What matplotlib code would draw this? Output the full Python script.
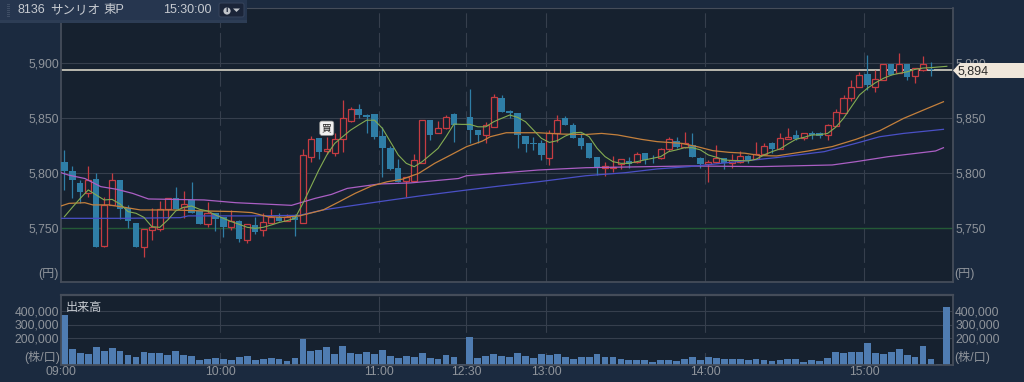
import numpy as np
import matplotlib
matplotlib.use('Agg')
import matplotlib.pyplot as plt
from matplotlib.patches import Polygon, Rectangle, FancyBboxPatch, Circle

plt.rcParams['font.family'] = ['Liberation Sans', 'Noto Sans CJK JP', 'DejaVu Sans']
plt.rcParams['lines.scale_dashes'] = False

nan = float('nan')

# 3 minute candles, one slot each, slots 50, 110 and 111 show no candle
opens = [5810, 5802, 5791, 5781.5, 5794.5, 5733.6, 5771, 5794, 5768, 5754.5,
         5732.5, 5748, 5749, 5767, 5777, 5769, 5775, 5765, 5753.6, 5764,
         5760, 5750.6, 5756.6, 5739, 5752.7, 5748, 5755, 5760, 5756, 5760,
         5755, 5814.2, 5831.5, 5820.2, 5817.8, 5830.9, 5847.5, 5857.8, 5852.7, 5854,
         5833.6, 5822.4, 5804.8, 5793, 5792.7, 5809.4, 5848, 5836, 5840.6, 5854,
         nan, 5851, 5839, 5834.5, 5842, 5867.8, 5856, 5854.8, 5833.6, 5827,
         5827.5, 5814, 5836, 5850, 5843.6, 5831.5, 5827, 5814.3, 5805, 5804.6,
         5808, 5811, 5810, 5818, 5814, 5813.4, 5821.6, 5829, 5824, 5825.5,
         5813.4, 5807.9, 5810, 5813.4, 5808.8, 5810.3, 5815.8, 5812.5, 5817, 5827,
         5822, 5831, 5834.5, 5831.5, 5836, 5836, 5834.5, 5843, 5855, 5867.9,
         5878.5, 5889.7, 5878.5, 5885, 5899, 5890.6, 5899, 5888, 5893.6, 5894.2,
         nan, nan]
closes = [5802, 5794, 5782.5, 5794, 5732.5, 5771, 5793.6, 5767.5, 5756, 5732.5,
          5749, 5751, 5767.5, 5777, 5767, 5772, 5764, 5754, 5764, 5758,
          5750.6, 5756, 5739.7, 5754, 5746.6, 5755, 5760, 5756, 5760, 5757,
          5816, 5830.9, 5819.4, 5821.6, 5830.6, 5849.7, 5857.8, 5853, 5851, 5833,
          5823, 5804, 5792, 5796.6, 5811.8, 5848, 5835, 5841, 5851, 5843.6,
          nan, 5839, 5834.5, 5843.6, 5869.4, 5855.7, 5855, 5835, 5826, 5826,
          5816, 5836, 5848, 5843.6, 5831.5, 5824.8, 5814, 5804.3, 5806, 5805.8,
          5812.5, 5808, 5817, 5811.9, 5813.4, 5821.6, 5830.6, 5824, 5827, 5814.3,
          5808.2, 5810.3, 5813.4, 5808.8, 5811.9, 5815.8, 5811.9, 5817, 5824.9, 5821.6,
          5832, 5833, 5830.9, 5836.3, 5834.5, 5834, 5843.3, 5855, 5867.9, 5878,
          5889, 5880, 5885, 5899, 5889, 5899, 5887, 5895.7, 5899, 5893.6,
          nan, nan]
highs = [5821, 5806, 5794, 5806, 5800, 5778.5, 5800, 5794, 5771, 5754.5,
         5749, 5768, 5775, 5777, 5787, 5784, 5792, 5765, 5774, 5764,
         5760, 5766, 5757, 5754, 5760, 5764, 5767, 5764, 5763, 5763,
         5822, 5833.6, 5831.5, 5833, 5836, 5866.3, 5860, 5863, 5854, 5854,
         5842, 5825, 5813, 5796.6, 5817, 5848, 5848.5, 5847.5, 5852.7, 5854.5,
         nan, 5876, 5839, 5846, 5871.8, 5871, 5857, 5855, 5833.6, 5833,
         5830, 5839, 5852.7, 5851.8, 5845.7, 5836, 5827, 5814.3, 5810, 5815.5,
         5812.5, 5814.9, 5819.4, 5818, 5816, 5822.5, 5832.5, 5832.5, 5837.6, 5836,
         5814.5, 5812, 5825.5, 5813.4, 5817, 5820, 5816.4, 5828.5, 5827, 5828.5,
         5836, 5840.6, 5839, 5836.3, 5838.5, 5837.5, 5844.5, 5858, 5871, 5884.5,
         5891.5, 5907.3, 5893.6, 5899, 5899.5, 5908.8, 5899, 5895.7, 5906.7, 5901,
         nan, nan]
lows = [5785, 5777, 5773, 5778.5, 5732.5, 5733, 5771, 5758, 5750, 5732.5,
        5724, 5739, 5747, 5758, 5767, 5759, 5764, 5754, 5751, 5747,
        5742, 5748, 5737.6, 5736.6, 5745, 5743, 5755, 5756, 5756, 5743,
        5755, 5810, 5812.4, 5817.2, 5815.4, 5819.4, 5846.6, 5850, 5836, 5830.6,
        5796.6, 5802.7, 5792, 5778, 5792.7, 5809.4, 5830, 5836, 5839.6, 5828.4,
        nan, 5827, 5827, 5827, 5842, 5855.7, 5850, 5822.4, 5819.4, 5821,
        5811.8, 5807, 5828.4, 5843.6, 5831.5, 5821.6, 5814, 5798.2, 5797.3, 5801.3,
        5803.7, 5804.3, 5808.8, 5807.9, 5809.4, 5812.5, 5820.3, 5823, 5823, 5814.3,
        5804.3, 5792, 5808.8, 5803.7, 5804.3, 5808.8, 5808.8, 5812.5, 5817, 5818.5,
        5822, 5831, 5830, 5830, 5830.6, 5832, 5830, 5843, 5855, 5865.7,
        5878.5, 5875.4, 5874, 5885, 5889, 5890.6, 5885, 5881.5, 5893, 5888,
        nan, nan]

volumes = [370000, 116000, 91000, 79000, 136000, 104000, 123000, 106000, 74000, 62000,
           94000, 86000, 86000, 74000, 101000, 74000, 67000, 35000, 42000, 49000,
           42000, 37000, 59000, 67000, 37000, 42000, 49000, 42000, 30000, 49000,
           195000, 106000, 111000, 136000, 81000, 141000, 86000, 79000, 94000, 81000,
           111000, 67000, 49000, 69000, 59000, 89000, 54000, 42000, 74000, 59000,
           10000, 210000, 54000, 69000, 81000, 69000, 59000, 86000, 69000, 54000,
           81000, 74000, 81000, 62000, 42000, 62000, 62000, 81000, 62000, 62000,
           42000, 37000, 37000, 37000, 22000, 37000, 37000, 30000, 42000, 62000,
           37000, 59000, 49000, 42000, 42000, 42000, 35000, 42000, 35000, 27000,
           35000, 42000, 42000, 20000, 35000, 27000, 52000, 94000, 86000, 94000,
           99000, 163000, 86000, 79000, 94000, 116000, 74000, 62000, 143000, 42000,
           5000, 432000]

ma_green = [5760.3, 5768.8, 5777, 5784.6, 5780, 5775.5, 5776, 5771.8, 5764.9, 5763.4,
            5759.7, 5751.2, 5750.6, 5757.3, 5765.5, 5768.8, 5770, 5767, 5765.5, 5761.8,
            5758.8, 5755.8, 5753.3, 5750.6, 5749.7, 5750.6, 5752.7, 5755, 5756.7, 5758.8,
            5772.4, 5787.5, 5802.7, 5816.3, 5826.9, 5833, 5839, 5843.6, 5848, 5848,
            5840.6, 5828.4, 5816.3, 5808.8, 5805.7, 5810.3, 5816.3, 5822.4, 5833, 5844.5,
            5844.2, 5844.2, 5842, 5842, 5846.6, 5849.7, 5852.7, 5850.6, 5846.6, 5839,
            5831.5, 5827.8, 5829.4, 5833.6, 5836.5, 5837, 5833, 5822.5, 5814.9, 5810.3,
            5808.8, 5808.8, 5810.3, 5811.9, 5813.4, 5814.9, 5819.4, 5821, 5823, 5823,
            5821, 5816.4, 5814.3, 5811.9, 5811.3, 5811.3, 5811, 5812.5, 5816.4, 5819.4,
            5821.9, 5826.4, 5830.6, 5832.4, 5834.5, 5834.8, 5836, 5841.5, 5849.7, 5860.3,
            5870.9, 5877, 5882, 5886, 5889, 5890.6, 5892, 5894.2, 5895.4, 5895.8,
            5896.4, 5897]

orange_slots = [0, 1, 3, 4, 6, 8, 10, 14, 18, 22, 24, 26, 28, 30, 33, 35, 37, 39, 41, 43,
                45, 47, 49, 51, 53, 54, 56, 60, 63, 66, 68, 70, 73, 75, 78, 80, 82, 84,
                86, 88, 90, 94, 97, 100, 103, 106, 109, 111]
ma_orange = [5770, 5772.4, 5773, 5771, 5771, 5768.8, 5766.4, 5766.4, 5765.5, 5764.9, 5764,
             5760.3, 5759.7, 5761, 5766.5, 5773.9, 5781.5, 5788, 5792, 5794.5,
             5799.7, 5808.8, 5816.3, 5823.9, 5829, 5833, 5836.6, 5836.6, 5835.4, 5835, 5836,
             5834.6, 5830.6, 5828.5, 5827, 5824, 5820.3, 5818.8, 5818, 5815.8, 5815.5,
             5820, 5824, 5830.6, 5838.5, 5849.7, 5858.8, 5864.8]

blue_slots = [0, 8, 15, 16, 24, 30, 33, 40, 45, 51, 55, 60, 66, 71, 75, 79, 82, 87, 90, 96,
              100, 103, 106, 109, 111]
ma_blue = [5758.8, 5758.8, 5759.4, 5761, 5761, 5761.5, 5766.5, 5773.9, 5779, 5784.5, 5788,
           5792, 5797.5, 5800.3, 5803.7, 5805.8, 5808, 5811.8, 5814, 5819.4,
           5827, 5833, 5836, 5838.2, 5839.7]

purple_slots = [0, 1, 3, 5, 7, 9, 11, 18, 22, 29, 32, 34, 36, 40, 44, 50, 51, 60, 66, 79,
                88, 97, 100, 104, 110, 111]
ma_purple = [5800.3, 5798, 5795, 5787.6, 5785.2, 5781.5, 5776.4, 5775.5, 5773, 5770.6,
             5777, 5780.5, 5786, 5790, 5791, 5795, 5797.5, 5802.7, 5804.8, 5806.4,
             5805.8, 5807.3, 5810.3, 5814.8, 5820, 5823]

last_price = 5894
marker_slot = 33
price_ticks = [5750, 5800, 5850, 5900]
volume_ticks = [200000, 300000, 400000]
time_slots = [0, 20, 40, 51, 61, 81, 101]
time_labels = ['09:00', '10:00', '11:00', '12:30', '13:00', '14:00', '15:00']

OUTER = '#1b2a3f'
INNER = '#16212f'
GRID = '#363f4d'
FRAME = '#454d5a'
LABEL = '#8f949b'
UP = '#c63c42'
DOWN = '#2f7ea6'
FS = 8.7
W, H = 1024, 382


def axes_at(fig, left, top, right, bottom):
    return fig.add_axes([left / W, 1 - bottom / H, (right - left) / W, (bottom - top) / H])


def style_panel(ax):
    ax.set_facecolor(INNER)
    ax.set_xlim(0, 892 / 7.95)
    ax.tick_params(length=0, colors=LABEL, labelsize=FS)
    ax.tick_params(axis='y', pad=1.5)
    ax.tick_params(axis='x', pad=1)
    for s in ax.spines.values():
        s.set_color(FRAME)
        s.set_linewidth(1.3)


fig = plt.figure(figsize=(W / 100, H / 100), dpi=100, facecolor=OUTER)

# price panel
ax = axes_at(fig, 61, 8, 953, 282)
style_panel(ax)
ax.set_ylim(5900 - 219 / 1.1, 5950)
ax.spines['top'].set_linewidth(0.8)
ax.set_yticks(price_ticks)
ax.set_yticklabels(['5,750', '5,800', '5,850', '5,900'])
ax.tick_params(axis='y', labelright=True)
ax.set_xticks([])
ax.grid(axis='y', color=GRID, lw=0.8)
ax.set_axisbelow(True)
for s in time_slots[1:]:
    ax.axvline(s, color=GRID, lw=0.8, ls=(0, (10.5, 3.6)), zorder=1)
ax.axhline(5750, color='#245a36', lw=1, zorder=1.5)
ax.axhline(last_price, color='#d6d2c4', lw=1.2, zorder=1.6)

centers = np.arange(len(opens)) + 0.43
o = np.array(opens)
c = np.array(closes)
h = np.array(highs)
l = np.array(lows)
up = c >= o
down = c < o
ax.vlines(centers[up], l[up], h[up], color=UP, lw=0.9, zorder=2)
ax.vlines(centers[down], l[down], h[down], color=DOWN, lw=0.9, zorder=2)
ax.bar(centers[down], (o - c)[down], bottom=c[down], width=0.8, color=DOWN, lw=0, zorder=3)
ax.bar(centers[up], (c - o)[up], bottom=o[up], width=0.76, facecolor=INNER,
       edgecolor=UP, lw=0.9, zorder=3)

ax.plot(purple_slots, ma_purple, color='#ab5fc4', lw=0.9, zorder=4)
ax.plot(blue_slots, ma_blue, color='#4a50c6', lw=0.9, zorder=4)
ax.plot(orange_slots, ma_orange, color='#c4803c', lw=0.9, zorder=4)
ax.plot(centers, ma_green, color='#84ac52', lw=0.8, zorder=5)

ax.annotate('買', (centers[marker_slot], highs[marker_slot]), xytext=(0, 2.5),
            textcoords='offset points', ha='center', va='bottom', fontsize=7, color='#222222',
            bbox=dict(boxstyle='round,pad=0.22', fc='#f0f0f0', ec='#999999', lw=0.5), zorder=6)

# volume panel
vx = axes_at(fig, 61, 295, 953, 365)
style_panel(vx)
vx.set_ylim(0, 70 / 13.5 * 100000)
vx.spines['top'].set_linewidth(1.6)
vx.set_yticks(volume_ticks)
vx.set_yticklabels(['200,000', '300,000', '400,000'])
vx.tick_params(axis='y', labelright=True)
vx.set_xticks(time_slots)
vx.set_xticklabels(time_labels)
vx.grid(axis='y', color=GRID, lw=0.8)
vx.set_axisbelow(True)
for s in time_slots[1:]:
    vx.axvline(s, color=GRID, lw=0.8, ls=(0, (9, 14.5, 26, 2)), zorder=1)
vx.bar(np.arange(len(volumes)) + 0.43, volumes, width=0.86, color='#4f7cb1', lw=0, zorder=2)

# header, captions and last price tag on top of both panels
ov = fig.add_axes([0, 0, 1, 1], facecolor='none', zorder=10)
ov.set_xlim(0, W)
ov.set_ylim(H, 0)
ov.axis('off')
ov.add_patch(Rectangle((0, 0), 247, 22.5, fc='#26364f', ec='none'))
ov.add_patch(Rectangle((0, 20), 247, 2.5, fc='#2d3d55', ec='none'))
for gy in np.arange(4, 17, 2):
    ov.add_patch(Rectangle((7, gy), 3, 1, fc='#3f4e65', ec='none'))
ov.text(17, 10, '8136', color='#c6cad0', fontsize=FS + 0.3, va='center')
ov.text(50, 10, 'サンリオ', color='#c6cad0', fontsize=FS + 0.3, va='center')
ov.text(103, 10, '東P', color='#c6cad0', fontsize=FS + 0.3, va='center')
ov.text(163, 10, '15:30:00', color='#c6cad0', fontsize=FS + 0.3, va='center')
ov.add_patch(FancyBboxPatch((219, 3), 25, 14, boxstyle='round,pad=0,rounding_size=2',
                            fc='#1a2438', ec='#34425a', lw=0.8))
ov.add_patch(Circle((227, 11), 3.6, fc='#c0c4ca', ec='none'))
ov.text(227, 11, 'i', color='#1a2438', fontsize=6, fontweight='bold', ha='center', va='center')
ov.add_patch(Polygon([(233, 8.5), (240, 8.5), (236.5, 12)], fc='#c0c4ca', ec='none'))

ov.text(59, 274, '(円)', color=LABEL, fontsize=FS, ha='right', va='center')
ov.text(954, 274, '(円)', color=LABEL, fontsize=FS, ha='left', va='center')
ov.text(60, 358, '(株/口)', color=LABEL, fontsize=FS, ha='right', va='center')
ov.text(954, 358, '(株/口)', color=LABEL, fontsize=FS, ha='left', va='center')
ov.text(66, 308, '出来高', color='#c8ccd2', fontsize=FS, va='center')

ov.add_patch(Polygon([(953, 70.5), (960, 63), (1024, 63), (1024, 78), (960, 78)],
                     fc='#efe6da', ec='none'))
ov.text(958, 71, f'{last_price:,}', color='#2a2a2a', fontsize=FS + 0.3, va='center')

fig.savefig('out.png', dpi=100, facecolor=OUTER)
